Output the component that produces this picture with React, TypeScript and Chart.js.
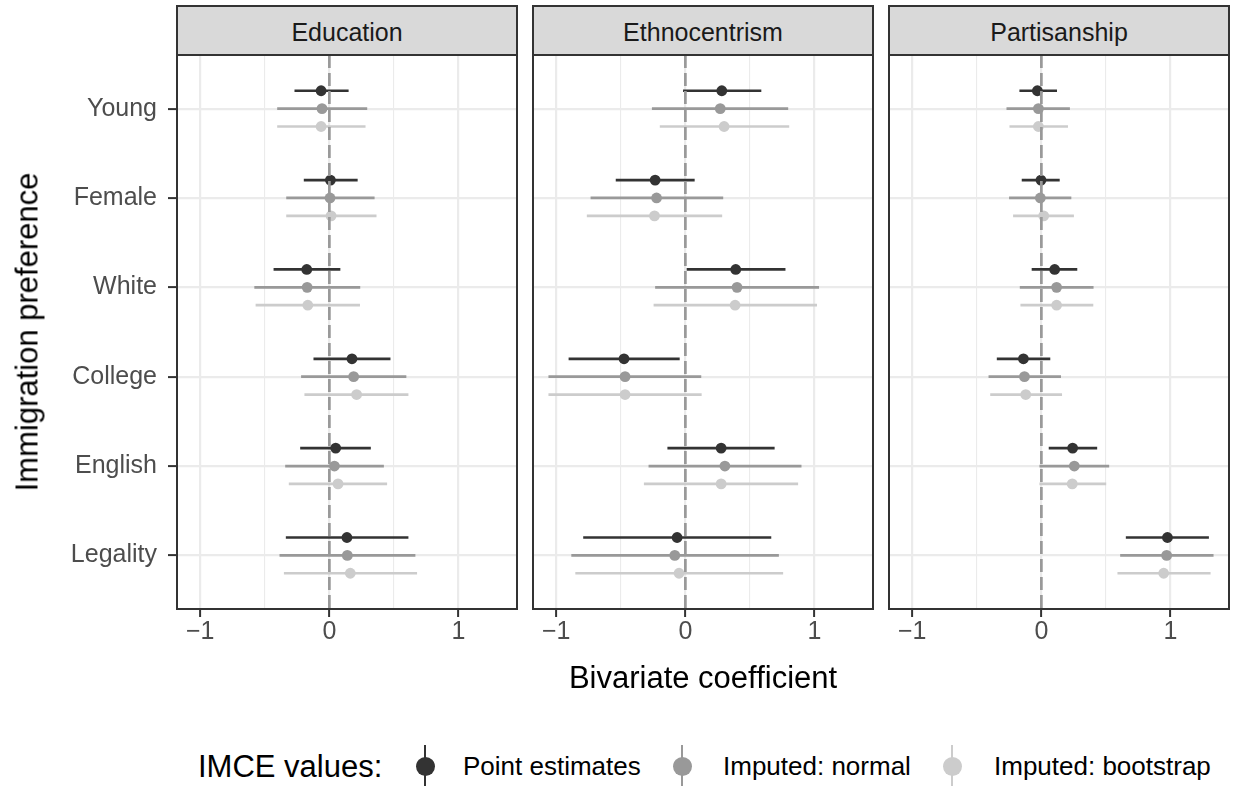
import React, { useEffect, useRef } from "react";
import { Chart, registerables } from "chart.js";

Chart.register(...registerables);

const FONT = "'Liberation Sans', Arial, Helvetica, sans-serif";

// ---------------- data ----------------
const categories = ["Young", "Female", "White", "College", "English", "Legality"];
const facetNames = ["Education", "Ethnocentrism", "Partisanship"];
const seriesLabels = ["Point estimates", "Imputed: normal", "Imputed: bootstrap"];
const seriesColors = ["#333333", "#999999", "#CCCCCC"];
const xTickValues = [-1, -0.5, 0, 0.5, 1];
const xTickLabels = ["\u22121", "", "0", "", "1"];

// Education
const educationPointEst = [-0.064, 0.008, -0.175, 0.175, 0.049, 0.136];
const educationPointLow = [-0.27, -0.198, -0.432, -0.123, -0.226, -0.337];
const educationPointHigh = [0.149, 0.219, 0.085, 0.473, 0.321, 0.612];
const educationNormalEst = [-0.057, 0.005, -0.172, 0.188, 0.039, 0.139];
const educationNormalLow = [-0.404, -0.334, -0.581, -0.219, -0.342, -0.386];
const educationNormalHigh = [0.293, 0.35, 0.239, 0.596, 0.422, 0.666];
const educationBootEst = [-0.064, 0.013, -0.167, 0.211, 0.067, 0.162];
const educationBootLow = [-0.404, -0.334, -0.571, -0.193, -0.314, -0.352];
const educationBootHigh = [0.28, 0.365, 0.237, 0.612, 0.447, 0.679];

// Ethnocentrism
const ethnoPointEst = [0.282, -0.234, 0.39, -0.475, 0.277, -0.064];
const ethnoPointLow = [-0.018, -0.539, 0.01, -0.904, -0.139, -0.791];
const ethnoPointHigh = [0.588, 0.072, 0.775, -0.044, 0.691, 0.665];
const ethnoNormalEst = [0.27, -0.223, 0.4, -0.467, 0.306, -0.082];
const ethnoNormalLow = [-0.259, -0.734, -0.234, -1.06, -0.285, -0.883];
const ethnoNormalHigh = [0.796, 0.293, 1.035, 0.123, 0.899, 0.724];
const ethnoBootEst = [0.3, -0.239, 0.385, -0.467, 0.277, -0.049];
const ethnoBootLow = [-0.198, -0.763, -0.246, -1.06, -0.321, -0.852];
const ethnoBootHigh = [0.804, 0.285, 1.019, 0.126, 0.873, 0.757];

// Partisanship
const partisanPointEst = [-0.031, -0.003, 0.103, -0.139, 0.242, 0.976];
const partisanPointLow = [-0.17, -0.152, -0.075, -0.345, 0.057, 0.654];
const partisanPointHigh = [0.121, 0.142, 0.278, 0.069, 0.432, 1.297];
const partisanNormalEst = [-0.023, -0.008, 0.118, -0.131, 0.255, 0.97];
const partisanNormalLow = [-0.27, -0.25, -0.167, -0.409, -0.015, 0.61];
const partisanNormalHigh = [0.221, 0.232, 0.404, 0.152, 0.525, 1.333];
const partisanBootEst = [-0.023, 0.018, 0.118, -0.121, 0.239, 0.947];
const partisanBootLow = [-0.247, -0.219, -0.162, -0.396, -0.015, 0.589];
const partisanBootHigh = [0.206, 0.252, 0.402, 0.16, 0.502, 1.31];

const facetSeries = [
  [
    [educationPointEst, educationPointLow, educationPointHigh],
    [educationNormalEst, educationNormalLow, educationNormalHigh],
    [educationBootEst, educationBootLow, educationBootHigh],
  ],
  [
    [ethnoPointEst, ethnoPointLow, ethnoPointHigh],
    [ethnoNormalEst, ethnoNormalLow, ethnoNormalHigh],
    [ethnoBootEst, ethnoBootLow, ethnoBootHigh],
  ],
  [
    [partisanPointEst, partisanPointLow, partisanPointHigh],
    [partisanNormalEst, partisanNormalLow, partisanNormalHigh],
    [partisanBootEst, partisanBootLow, partisanBootHigh],
  ],
];

// ---------------- layout ----------------
const PAGE_W = 1235;
const PAGE_H = 786;
const PANEL_LEFT = [177, 533, 889];
const PANEL_W = 340;
const PANEL_TOP = 55;
const PANEL_BOTTOM = 609;
const CANVAS_H = 660;
const DODGE = [-0.2, 0, 0.2];

const allLow = facetSeries.flatMap((f) => f.flatMap((s) => s[1]));
const allHigh = facetSeries.flatMap((f) => f.flatMap((s) => s[2]));
const dataMin = Math.min(...allLow);
const dataMax = Math.max(...allHigh);
const xPad = (dataMax - dataMin) * 0.05;
const X_MIN = dataMin - xPad;
const X_MAX = dataMax + xPad;

const panelPlugin = {
  id: "panelDecor",
  beforeDatasetsDraw(chart: any) {
    const { ctx, scales } = chart;
    const xs = scales.x;
    const ys = scales.y;
    ctx.save();
    ctx.lineCap = "butt";
    ctx.lineWidth = 2.7;
    chart.data.datasets.forEach((ds: any) => {
      ctx.strokeStyle = ds.borderColor;
      ds.data.forEach((p: any) => {
        const py = ys.getPixelForValue(p.y);
        ctx.beginPath();
        ctx.moveTo(xs.getPixelForValue(p.lo), py);
        ctx.lineTo(xs.getPixelForValue(p.hi), py);
        ctx.stroke();
      });
    });
    ctx.restore();
  },
  afterDatasetsDraw(chart: any) {
    const { ctx, chartArea: a, scales } = chart;
    const x0 = scales.x.getPixelForValue(0);
    ctx.save();
    ctx.strokeStyle = "#999999";
    ctx.lineWidth = 2.7;
    ctx.lineCap = "butt";
    ctx.setLineDash([13, 5]);
    ctx.beginPath();
    ctx.moveTo(x0, a.top);
    ctx.lineTo(x0, a.bottom);
    ctx.stroke();
    ctx.restore();
  },
  afterDraw(chart: any) {
    const { ctx, chartArea: a } = chart;
    ctx.save();
    ctx.strokeStyle = "#333333";
    ctx.lineWidth = 2;
    ctx.strokeRect(a.left, a.top, a.right - a.left, a.bottom - a.top);
    ctx.restore();
  },
};

function Panel({ index }: { index: number }) {
  const ref = useRef<HTMLCanvasElement | null>(null);
  useEffect(() => {
    const first = index === 0;
    const left = PANEL_LEFT[index];
    const chart = new Chart(ref.current as HTMLCanvasElement, {
      type: "scatter",
      data: {
        datasets: seriesLabels.map((label, s) => {
          const [est, lo, hi] = facetSeries[index][s];
          return {
            label,
            data: est.map((v, i) => ({ x: v, y: i + DODGE[s], lo: lo[i], hi: hi[i] })),
            backgroundColor: seriesColors[s],
            borderColor: seriesColors[s],
            borderWidth: 0,
            pointRadius: 5.4,
            pointHoverRadius: 5.4,
          } as any;
        }),
      },
      options: {
        animation: false,
        responsive: false,
        maintainAspectRatio: false,
        events: [],
        layout: {
          padding: {
            left: first ? 0 : left,
            right: PAGE_W - left - PANEL_W,
            top: PANEL_TOP,
            bottom: 0,
          },
        },
        plugins: { legend: { display: false }, tooltip: { enabled: false } },
        scales: {
          x: {
            type: "linear",
            min: X_MIN,
            max: X_MAX,
            afterBuildTicks: (scale: any) => {
              scale.ticks = xTickValues.map((v) => ({ value: v }));
            },
            afterFit: (scale: any) => {
              scale.height = CANVAS_H - PANEL_BOTTOM;
            },
            border: { display: false },
            grid: {
              color: "#EBEBEB",
              lineWidth: (c: any) => (c.tick && Number.isInteger(c.tick.value) ? 2.2 : 1.1),
              tickColor: (c: any) =>
                c.tick && Number.isInteger(c.tick.value) ? "#333333" : "rgba(0,0,0,0)",
              tickWidth: 2,
              tickLength: 8,
            },
            ticks: {
              autoSkip: false,
              maxRotation: 0,
              padding: 0,
              color: "#4D4D4D",
              font: { family: FONT, size: 25 },
              callback: (_v: any, i: number) => xTickLabels[i],
            },
          },
          y: {
            type: "linear",
            reverse: true,
            min: -0.6,
            max: categories.length - 0.4,
            afterBuildTicks: (scale: any) => {
              scale.ticks = categories.map((_c, i) => ({ value: i }));
            },
            afterFit: (scale: any) => {
              scale.width = first ? PANEL_LEFT[0] : 0;
            },
            border: { display: false },
            grid: {
              color: "#EBEBEB",
              lineWidth: 2.2,
              tickColor: "#333333",
              tickWidth: 2,
              tickLength: 9,
              drawTicks: first,
            },
            ticks: {
              display: first,
              padding: 11,
              color: "#4D4D4D",
              font: { family: FONT, size: 25 },
              callback: (_v: any, i: number) => categories[i],
            },
          },
        },
      } as any,
      plugins: [panelPlugin as any],
    });
    return () => chart.destroy();
  }, [index]);
  return (
    <canvas
      ref={ref}
      width={PAGE_W}
      height={CANVAS_H}
      style={{ position: "absolute", left: 0, top: 0, width: PAGE_W, height: CANVAS_H }}
    />
  );
}

const textBase: React.CSSProperties = {
  position: "absolute",
  fontFamily: FONT,
  lineHeight: 1,
  whiteSpace: "nowrap",
  transform: "translate(-50%, -50%)",
};

const legendKeyX = [425, 682, 952];
const legendTextX = [463, 723, 994];
const LEGEND_Y = 766;

export default function App() {
  return (
    <div
      style={{
        position: "absolute",
        left: 0,
        top: 0,
        width: PAGE_W,
        height: PAGE_H,
        background: "#FFFFFF",
        overflow: "hidden",
      }}
    >
      {facetNames.map((name, i) => (
        <div
          key={"strip" + i}
          style={{
            position: "absolute",
            left: PANEL_LEFT[i] - 1,
            top: 5,
            width: PANEL_W + 2,
            height: PANEL_TOP - 4,
            boxSizing: "border-box",
            border: "2px solid #333333",
            background: "#D9D9D9",
          }}
        />
      ))}
      {facetNames.map((name, i) => (
        <div
          key={"striptext" + i}
          style={{ ...textBase, left: PANEL_LEFT[i] + PANEL_W / 2, top: 32, fontSize: 25, color: "#1A1A1A" }}
        >
          {name}
        </div>
      ))}
      {facetNames.map((_n, i) => (
        <Panel key={"panel" + i} index={i} />
      ))}
      <div
        style={{
          ...textBase,
          left: (PANEL_LEFT[0] + PANEL_LEFT[2] + PANEL_W) / 2,
          top: 677,
          fontSize: 31,
          color: "#000000",
        }}
      >
        Bivariate coefficient
      </div>
      <div
        style={{
          ...textBase,
          left: 27,
          top: (PANEL_TOP + PANEL_BOTTOM) / 2,
          fontSize: 31,
          color: "#000000",
          transform: "translate(-50%, -50%) rotate(-90deg)",
        }}
      >
        Immigration preference
      </div>
      <div
        style={{
          position: "absolute",
          left: 198,
          top: LEGEND_Y,
          transform: "translateY(-50%)",
          fontFamily: FONT,
          lineHeight: 1,
          fontSize: 31,
          whiteSpace: "nowrap",
          color: "#000000",
        }}
      >
        IMCE values:
      </div>
      {seriesLabels.map((label, s) => (
        <React.Fragment key={"leg" + s}>
          <div
            style={{
              position: "absolute",
              left: legendKeyX[s] - 1.35,
              top: LEGEND_Y - 21,
              width: 2.7,
              height: 42,
              background: seriesColors[s],
            }}
          />
          <div
            style={{
              position: "absolute",
              left: legendKeyX[s] - 9.5,
              top: LEGEND_Y - 9.5,
              width: 19,
              height: 19,
              borderRadius: "50%",
              background: seriesColors[s],
            }}
          />
          <div
            style={{
              position: "absolute",
              left: legendTextX[s],
              top: LEGEND_Y,
              transform: "translateY(-50%)",
              fontFamily: FONT,
              lineHeight: 1,
              fontSize: 26,
              whiteSpace: "nowrap",
              color: "#000000",
            }}
          >
            {label}
          </div>
        </React.Fragment>
      ))}
    </div>
  );
}
